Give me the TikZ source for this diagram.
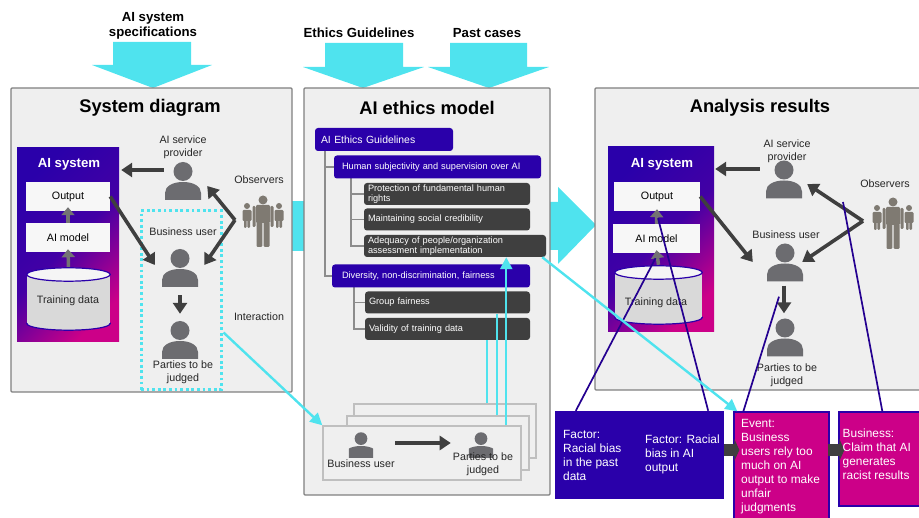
\documentclass[tikz,border=0pt]{standalone}
\usepackage{fontspec}
\setmainfont{Liberation Sans}
\usetikzlibrary{arrows.meta,shadings}

\definecolor{cyanarrow}{HTML}{4FE3EE}
\definecolor{panelgray}{HTML}{EFEFEF}
\definecolor{deepblue}{HTML}{2A00AA}
\definecolor{hotpink}{HTML}{CC0088}
\definecolor{darkbox}{HTML}{3F3F3F}
\definecolor{persongray}{HTML}{6C6C70}
\definecolor{crowdgray}{HTML}{7F7A72}

\tikzset{
  panel/.style={draw=black!50,line width=1.2,fill=panelgray,rounded corners=1,inner sep=0},
  bigarrow/.style={fill=cyanarrow},
  label/.style={font=\fontsize{10.7}{12.5}\selectfont,text=black!85,align=center,inner sep=0},
  boxtitle/.style={font=\bfseries\fontsize{18.3}{20}\selectfont,inner sep=0},
  toplabel/.style={font=\bfseries\fontsize{13.2}{15}\selectfont,align=center,inner sep=0},
  sysname/.style={text=white,font=\bfseries\fontsize{13.2}{15}\selectfont,inner sep=0},
  sysbox/.style={rectangle,shading=axis,left color=deepblue,right color=hotpink,
    middle color=deepblue!85!hotpink,shading angle=45,inner sep=0},
  whitebox/.style={fill=white!97!black,font=\fontsize{10.7}{12}\selectfont,inner sep=0,minimum height=29},
  datastore/.style 2 args={minimum width=#1,minimum height=#2,inner sep=0,
    path picture={
      \begin{scope}[shift={(path picture bounding box.center)},line width=1.2]
        \filldraw[fill=black!15,draw=deepblue] (0,#2/2-7.5) ellipse ({#1/2-0.8} and 6.7);
        \fill[black!15] ({-#1/2+0.8},{-#2/2+7.5}) rectangle ({#1/2-0.8},{#2/2-7.5});
        \filldraw[fill=white!96!black,draw=deepblue] (0,-#2/2+7.5) ellipse ({#1/2-0.8} and 6.7);
      \end{scope}
    }},
  darrow/.style={draw=darkbox,line width=3.6,-{Triangle[length=11,width=14]}},
  graylink/.style={draw=black!55,line width=3.5,-{Triangle[length=8,width=13]}},
  fatlink/.style={draw=darkbox,line width=12,-{Triangle[length=5,width=22]}},
  cyanline/.style={draw=cyanarrow,line width=2.4},
  cyanlink/.style={cyanline,-{Triangle[length=12,width=12]}},
  factorline/.style={draw=deepblue!85!black,line width=1.7},
  guide/.style={draw=black!45,line width=1.5},
  bluebox/.style={fill=deepblue,text=white,rounded corners=3,font=\fontsize{9.2}{10.5}\selectfont,
    align=left,inner ysep=0,minimum height=23,text width=#1},
  greybox/.style={fill=darkbox,text=white,rounded corners=3,font=\fontsize{9.2}{10}\selectfont,
    align=left,inner xsep=4,inner ysep=0,minimum height=22,text width=#1},
  casebox/.style={draw=black!25,line width=1.5,fill=panelgray,minimum height=54,minimum width=#1,inner sep=0},
  note/.style={text=white,font=\fontsize{11.9}{14}\selectfont,align=left,inner sep=0},
  pinkbox/.style={draw=deepblue,line width=1.3,fill=hotpink,inner sep=0},
  dotbox/.style={draw=cyanarrow,line width=3,dash pattern=on 2.8pt off 2.8pt,inner sep=0},
  person/.style={minimum width=36*#1,minimum height=38*#1,inner sep=0,
    path picture={
      \fill[persongray,shift={(path picture bounding box.center)}]
        (0,-9.5*#1) circle (9.5*#1);
      \fill[persongray,shift={(path picture bounding box.center)},scale=#1]
        (-18,19) -- (-18,12) .. controls (-18,5) and (-10,1) .. (0,1)
        .. controls (10,1) and (18,5) .. (18,12) -- (18,19) -- cycle;
    }},
  person/.default=1,
  crowd/.style={minimum width=44,minimum height=54,inner sep=0,
    path picture={
      \fill[crowdgray,shift={(path picture bounding box.center)}]
        (0,-22) circle (4.5)
        (-16,-16) circle (3) (16,-16) circle (3);
      \fill[crowdgray,shift={(path picture bounding box.center)},rounded corners=1.2]
        (-7,-17) rectangle (7,1) (-10.5,-16) rectangle (-7.5,5) (7.5,-16) rectangle (10.5,5)
        (-6.5,0) rectangle (-0.7,25) (0.7,0) rectangle (6.5,25)
        (-20.5,-12) rectangle (-11.5,-1) (11.5,-12) rectangle (20.5,-1)
        (-19,-2) rectangle (-16.3,6) (-15.7,-2) rectangle (-13,6)
        (13,-2) rectangle (15.7,6) (16.3,-2) rectangle (19,6);
    }},
}

\begin{document}
\begin{tikzpicture}[x=1pt,y=-1pt]
  \clip (0,0) rectangle (919,518);

  % arrows behind the panels
  \fill[bigarrow] (113,42) -- (191,42) -- (191,65) -- (212,65) -- (153,88) -- (92,65) -- (113,65) -- cycle;
  \fill[bigarrow] (325,43) -- (403,43) -- (403,67) -- (424,67) -- (363,88) -- (303,67) -- (325,67) -- cycle;
  \fill[bigarrow] (450,43) -- (527,43) -- (527,67) -- (549,67) -- (489,88) -- (428,67) -- (450,67) -- cycle;
  \fill[bigarrow] (285,201) rectangle (310,251);
  \fill[bigarrow] (545,202) -- (558,202) -- (558,187) -- (596,225) -- (558,264) -- (558,250) -- (545,250) -- cycle;

  \node[toplabel] (speclabel) at (153,26) {AI system\\specifications};
  \node[toplabel] (guidelabel) at (359,33) {Ethics Guidelines};
  \node[toplabel] (caselabel) at (487,33) {Past cases};

  \node[panel,minimum width=281,minimum height=304] (sysdiagram) at (151.5,240) {};
  \node[panel,minimum width=246,minimum height=407] (ethicsmodel) at (427,291.5) {};
  \node[panel,minimum width=340,minimum height=302] (analysis) at (765,239) {};

  \node[boxtitle] (systitle) at (150,108) {System diagram};
  \node[boxtitle] (ethicstitle) at (427,108) {AI ethics model};
  \node[boxtitle] (resulttitle) at (760,108) {Analysis results};

  % system diagram
  \node[sysbox,minimum width=102,minimum height=194] (sys1) at (68,245) {};
  \node[sysname] (sysname1) at (69,164) {AI system};
  \node[whitebox,minimum width=84] (out1) at (68,196.5) {Output};
  \node[whitebox,minimum width=84] (model1) at (68,237.5) {AI model};
  \node[datastore={85}{64}] (data1) at (68.5,299) {};
  \node[label] (dataname1) at (68,301) {Training data};
  \draw[graylink] (model1.north) -- ([yshift=4]out1.south);
  \draw[graylink] (data1.north) -- ([yshift=3]model1.south);

  \node[person] (prov1) at (183,181) {};
  \node[person] (user1) at (180,268) {};
  \node[person] (part1) at (180,340) {};
  \node[crowd] (obs1) at (263,222) {};
  \coordinate (join1) at (235,220);
  \node[label] (provname1) at (183,147) {AI service\\provider};
  \node[label] (username1) at (183,232) {Business user};
  \node[label] (partname1) at (183,372) {Parties to be\\judged};
  \node[label] (obsname1) at (259,180) {Observers};
  \node[label] (interaction) at (259,317) {Interaction};
  \node[dotbox,minimum width=80,minimum height=179] (focus1) at (181,300.5) {};

  \draw[darrow] ([xshift=-1,yshift=11]prov1.west) -- ([xshift=2,yshift=75]sys1.east);
  \draw[darrow] (out1.east) -- ([xshift=-7,yshift=3]user1.west);
  \draw[darrow] (join1) -- ([xshift=6,yshift=-5]prov1.east);
  \draw[darrow] (join1) -- ([xshift=6,yshift=3]user1.east);
  \draw[darrow] ([yshift=-8]user1.south) -- ([yshift=7]part1.north);

  % ethics tree
  \draw[guide] (325,151) |- (332,276);
  \draw[guide] (325,167) -- (334,167);
  \draw[guide] (351,178) |- (364,246);
  \draw[guide] (351,194) -- (364,194);
  \draw[guide] (351,219.5) -- (364,219.5);
  \draw[guide] (354,287) |- (365,329);
  \draw[guide] (354,302.5) -- (365,302.5);
  \node[bluebox=126,inner xsep=6,font=\fontsize{10.4}{12}\selectfont] (guide) at (384,139.5) {AI Ethics Guidelines};
  \node[bluebox=191,inner xsep=8] (human) at (437.5,167) {Human subjectivity and supervision over AI};
  \node[greybox=158] (protect) at (447,194) {Protection of fundamental human\\rights};
  \node[greybox=158] (credible) at (447,219.5) {Maintaining social credibility};
  \node[greybox=174] (adequacy) at (455,246) {Adequacy of people/organization\\assessment implementation};
  \node[bluebox=178,inner xsep=10] (diverse) at (431,276) {Diversity, non-discrimination, fairness};
  \node[greybox=157] (group) at (447.5,302.5) {Group fairness};
  \node[greybox=157] (validity) at (447.5,329) {Validity of training data};

  % cases
  \node[casebox=182] (case3) at (445,431) {};
  \node[casebox=182] (case2) at (438,443) {};
  \node[casebox=198] (case1) at (422,453) {};
  \node[person=0.67] (caseuser) at (361,445) {};
  \node[person=0.67] (casepart) at (481,445) {};
  \node[label] (caseusername) at (361,464) {Business user};
  \node[label] (casepartname) at (483,464) {Parties to be\\judged};
  \draw[darrow] ([xshift=22,yshift=2]caseuser.east) -- ([xshift=-18,yshift=2]casepart.west);

  % analysis results
  \node[sysbox,minimum width=106,minimum height=185] (sys2) at (661,239.5) {};
  \node[sysname] (sysname2) at (662,164) {AI system};
  \node[whitebox,minimum width=86] (out2) at (657,196.5) {Output};
  \node[whitebox,minimum width=87] (model2) at (656.5,238.5) {AI model};
  \node[datastore={89}{60}] (data2) at (658.5,295) {};
  \node[label] (dataname2) at (656,303) {Training data};
  \draw[graylink] (model2.north) -- ([yshift=2]out2.south);
  \draw[graylink] (data2.north) -- ([yshift=3]model2.south);

  \node[person] (prov2) at (784,179.5) {};
  \node[person] (user2) at (785,262.5) {};
  \node[person] (part2) at (785,337.5) {};
  \node[crowd] (obs2) at (893,224) {};
  \coordinate (join2) at (863,221);
  \node[label] (provname2) at (787,151) {AI service\\provider};
  \node[label] (username2) at (786,235) {Business user};
  \node[label] (partname2) at (787,375) {Parties to be\\judged};
  \node[label] (obsname2) at (885,184) {Observers};

  \draw[darrow] ([xshift=-6,yshift=10.5]prov2.west) -- ([xshift=1,yshift=70.5]sys2.east);
  \draw[darrow] (out2.east) -- ([xshift=-14,yshift=0.5]user2.west);
  \draw[darrow] (join2) -- ([xshift=5,yshift=-4.5]prov2.east);
  \draw[darrow] (join2) -- ([xshift=-1,yshift=0.5]user2.east);
  \draw[darrow] ([xshift=-1,yshift=-4]user2.south) -- ([xshift=-1,yshift=5]part2.north);

  % factors and events
  \node[fill=deepblue,minimum width=169,minimum height=88,inner sep=0] (factors) at (639.5,455) {};
  \node[pinkbox,minimum width=95,minimum height=120] (eventbox) at (781.5,472) {};
  \node[pinkbox,minimum width=90,minimum height=94] (bizbox) at (884,459) {};
  \draw[fatlink] ([yshift=5]factors.east) -- ([xshift=6,yshift=22]eventbox.west);
  \draw[fatlink] ([xshift=-10,yshift=9]bizbox.west) -- ([xshift=6,yshift=9]bizbox.west);
  \node[note,anchor=west] (factor1) at (563,455) {Factor:\\Racial bias\\in the past\\data};
  \node[note,anchor=west] (factor2) at (645,454.7) {Factor: Racial\\bias in AI\\output};
  \node[note,anchor=north west] (eventtext) at (741,419.5) {Event:\\Business\\users rely too\\much on AI\\output to make\\unfair\\judgments};
  \node[note,anchor=north west] (biztext) at (842.5,429) {Business:\\Claim that AI\\generates\\racist results};

  \draw[factorline] ([xshift=21]factors.north west) -- ([yshift=-5,xshift=-1]model2.south);
  \draw[factorline] ([xshift=-16]factors.north east) -- ([xshift=1,yshift=-7]out2.south);
  \draw[factorline] ([xshift=10]eventbox.north west) -- ([xshift=-6,yshift=-15]user2.south);
  \draw[factorline] ([xshift=44]bizbox.north west) -- ([xshift=-50,yshift=22]obs2.center);

  % links across panels
  \coordinate (up3) at ([xshift=134]case3.north west);
  \coordinate (up2) at ([xshift=151]case2.north west);
  \coordinate (up1) at ([xshift=184]case1.north west);
  \draw[cyanlink] ([xshift=1,yshift=-32]focus1.east) -- (case1.north west);
  \draw[cyanline] (up3) -- (up3 |- validity.south);
  \draw[cyanline] (up2) -- (up2 |- group.south);
  \draw[cyanlink] (up1) -- (up1 |- adequacy.south);
  \draw[cyanlink] ([xshift=-4]adequacy.south east) -- ([xshift=4]eventbox.north west);
\end{tikzpicture}
\end{document}
